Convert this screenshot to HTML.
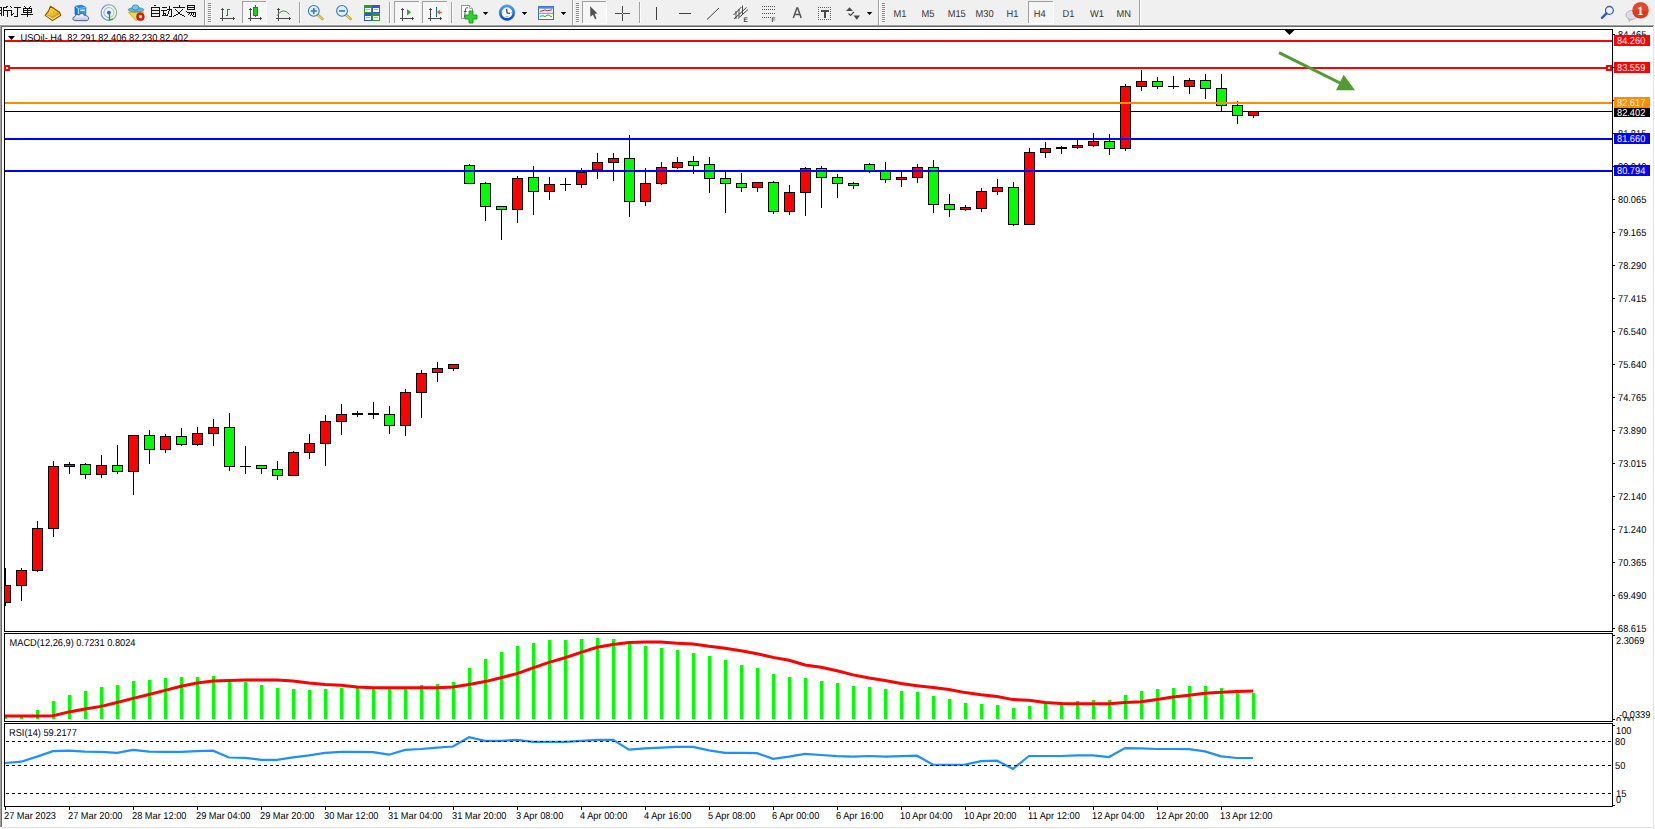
<!DOCTYPE html>
<html><head><meta charset="utf-8"><style>
html,body{margin:0;padding:0;width:1655px;height:829px;overflow:hidden;background:#fff}
svg{position:absolute;left:0;top:0;display:block}
text{font-family:"Liberation Sans",sans-serif;text-rendering:geometricPrecision}
</style></head><body>
<svg width="1655" height="829" viewBox="0 0 1655 829" shape-rendering="crispEdges">
<rect x="0" y="0" width="1655" height="829" fill="#ffffff"/>
<rect x="0" y="0" width="1655" height="25" fill="#f0f0f0"/>
<rect x="0" y="24" width="1655" height="1" fill="#f4f4f4"/>
<rect x="0" y="25" width="1654" height="1" fill="#a0a0a0"/>
<rect x="0" y="26" width="1653" height="1" fill="#696969"/>
<rect x="0" y="26" width="1" height="801" fill="#a0a0a0"/>
<rect x="1" y="26" width="1" height="801" fill="#696969"/>
<rect x="1653" y="27" width="1" height="801" fill="#e3e3e3"/>
<rect x="2" y="827" width="1652" height="1" fill="#e3e3e3"/>
<defs><clipPath id="cm"><rect x="5" y="30" width="1607" height="601"/></clipPath><clipPath id="cmacd"><rect x="5" y="634" width="1607" height="87"/></clipPath><clipPath id="cax"><rect x="1613" y="700" width="40" height="21"/></clipPath><clipPath id="crsi"><rect x="5" y="724" width="1607" height="82"/></clipPath></defs>
<g clip-path="url(#cm)">
<rect x="5" y="111" width="1607" height="1" fill="#000000"/>
<rect x="5" y="568" width="1" height="38" fill="#000"/>
<rect x="0" y="585" width="11" height="18" fill="#000"/>
<rect x="1" y="586" width="9" height="16" fill="#ff0000"/>
<rect x="21" y="568" width="1" height="33" fill="#000"/>
<rect x="16" y="570" width="11" height="16" fill="#000"/>
<rect x="17" y="571" width="9" height="14" fill="#ff0000"/>
<rect x="37" y="521" width="1" height="51" fill="#000"/>
<rect x="32" y="528" width="11" height="43" fill="#000"/>
<rect x="33" y="529" width="9" height="41" fill="#ff0000"/>
<rect x="53" y="461" width="1" height="76" fill="#000"/>
<rect x="48" y="466" width="11" height="63" fill="#000"/>
<rect x="49" y="467" width="9" height="61" fill="#ff0000"/>
<rect x="69" y="462" width="1" height="12" fill="#000"/>
<rect x="64" y="464" width="11" height="3" fill="#000"/>
<rect x="65" y="465" width="9" height="1" fill="#ff0000"/>
<rect x="85" y="463" width="1" height="16" fill="#000"/>
<rect x="80" y="464" width="11" height="11" fill="#000"/>
<rect x="81" y="465" width="9" height="9" fill="#00ff00"/>
<rect x="101" y="455" width="1" height="23" fill="#000"/>
<rect x="96" y="465" width="11" height="10" fill="#000"/>
<rect x="97" y="466" width="9" height="8" fill="#ff0000"/>
<rect x="117" y="445" width="1" height="29" fill="#000"/>
<rect x="112" y="465" width="11" height="7" fill="#000"/>
<rect x="113" y="466" width="9" height="5" fill="#00ff00"/>
<rect x="133" y="435" width="1" height="60" fill="#000"/>
<rect x="128" y="435" width="11" height="37" fill="#000"/>
<rect x="129" y="436" width="9" height="35" fill="#ff0000"/>
<rect x="149" y="430" width="1" height="34" fill="#000"/>
<rect x="144" y="435" width="11" height="15" fill="#000"/>
<rect x="145" y="436" width="9" height="13" fill="#00ff00"/>
<rect x="165" y="434" width="1" height="19" fill="#000"/>
<rect x="160" y="436" width="11" height="14" fill="#000"/>
<rect x="161" y="437" width="9" height="12" fill="#ff0000"/>
<rect x="181" y="428" width="1" height="18" fill="#000"/>
<rect x="176" y="436" width="11" height="9" fill="#000"/>
<rect x="177" y="437" width="9" height="7" fill="#00ff00"/>
<rect x="197" y="427" width="1" height="19" fill="#000"/>
<rect x="192" y="433" width="11" height="12" fill="#000"/>
<rect x="193" y="434" width="9" height="10" fill="#ff0000"/>
<rect x="213" y="419" width="1" height="27" fill="#000"/>
<rect x="208" y="427" width="11" height="7" fill="#000"/>
<rect x="209" y="428" width="9" height="5" fill="#ff0000"/>
<rect x="229" y="413" width="1" height="58" fill="#000"/>
<rect x="224" y="427" width="11" height="40" fill="#000"/>
<rect x="225" y="428" width="9" height="38" fill="#00ff00"/>
<rect x="245" y="446" width="1" height="28" fill="#000"/>
<rect x="240" y="466" width="11" height="1" fill="#000"/>
<rect x="261" y="465" width="1" height="9" fill="#000"/>
<rect x="256" y="465" width="11" height="4" fill="#000"/>
<rect x="257" y="466" width="9" height="2" fill="#00ff00"/>
<rect x="277" y="461" width="1" height="19" fill="#000"/>
<rect x="272" y="469" width="11" height="7" fill="#000"/>
<rect x="273" y="470" width="9" height="5" fill="#00ff00"/>
<rect x="293" y="451" width="1" height="25" fill="#000"/>
<rect x="288" y="452" width="11" height="24" fill="#000"/>
<rect x="289" y="453" width="9" height="22" fill="#ff0000"/>
<rect x="309" y="434" width="1" height="25" fill="#000"/>
<rect x="304" y="443" width="11" height="10" fill="#000"/>
<rect x="305" y="444" width="9" height="8" fill="#ff0000"/>
<rect x="325" y="415" width="1" height="51" fill="#000"/>
<rect x="320" y="421" width="11" height="23" fill="#000"/>
<rect x="321" y="422" width="9" height="21" fill="#ff0000"/>
<rect x="341" y="404" width="1" height="31" fill="#000"/>
<rect x="336" y="414" width="11" height="8" fill="#000"/>
<rect x="337" y="415" width="9" height="6" fill="#ff0000"/>
<rect x="357" y="411" width="1" height="6" fill="#000"/>
<rect x="352" y="413" width="11" height="2" fill="#000"/>
<rect x="373" y="402" width="1" height="17" fill="#000"/>
<rect x="368" y="413" width="11" height="2" fill="#000"/>
<rect x="389" y="406" width="1" height="28" fill="#000"/>
<rect x="384" y="414" width="11" height="12" fill="#000"/>
<rect x="385" y="415" width="9" height="10" fill="#00ff00"/>
<rect x="405" y="389" width="1" height="47" fill="#000"/>
<rect x="400" y="392" width="11" height="34" fill="#000"/>
<rect x="401" y="393" width="9" height="32" fill="#ff0000"/>
<rect x="421" y="370" width="1" height="48" fill="#000"/>
<rect x="416" y="373" width="11" height="20" fill="#000"/>
<rect x="417" y="374" width="9" height="18" fill="#ff0000"/>
<rect x="437" y="362" width="1" height="20" fill="#000"/>
<rect x="432" y="368" width="11" height="5" fill="#000"/>
<rect x="433" y="369" width="9" height="3" fill="#ff0000"/>
<rect x="453" y="364" width="1" height="7" fill="#000"/>
<rect x="448" y="364" width="11" height="5" fill="#000"/>
<rect x="449" y="365" width="9" height="3" fill="#ff0000"/>
<rect x="469" y="164" width="1" height="20" fill="#000"/>
<rect x="464" y="165" width="11" height="19" fill="#000"/>
<rect x="465" y="166" width="9" height="17" fill="#00ff00"/>
<rect x="485" y="182" width="1" height="39" fill="#000"/>
<rect x="480" y="183" width="11" height="24" fill="#000"/>
<rect x="481" y="184" width="9" height="22" fill="#00ff00"/>
<rect x="501" y="206" width="1" height="34" fill="#000"/>
<rect x="496" y="206" width="11" height="4" fill="#000"/>
<rect x="497" y="207" width="9" height="2" fill="#00ff00"/>
<rect x="517" y="176" width="1" height="47" fill="#000"/>
<rect x="512" y="178" width="11" height="32" fill="#000"/>
<rect x="513" y="179" width="9" height="30" fill="#ff0000"/>
<rect x="533" y="166" width="1" height="49" fill="#000"/>
<rect x="528" y="177" width="11" height="15" fill="#000"/>
<rect x="529" y="178" width="9" height="13" fill="#00ff00"/>
<rect x="549" y="177" width="1" height="23" fill="#000"/>
<rect x="544" y="184" width="11" height="8" fill="#000"/>
<rect x="545" y="185" width="9" height="6" fill="#ff0000"/>
<rect x="565" y="178" width="1" height="13" fill="#000"/>
<rect x="560" y="184" width="11" height="1" fill="#000"/>
<rect x="581" y="168" width="1" height="20" fill="#000"/>
<rect x="576" y="172" width="11" height="13" fill="#000"/>
<rect x="577" y="173" width="9" height="11" fill="#ff0000"/>
<rect x="597" y="153" width="1" height="26" fill="#000"/>
<rect x="592" y="162" width="11" height="8" fill="#000"/>
<rect x="593" y="163" width="9" height="6" fill="#ff0000"/>
<rect x="613" y="153" width="1" height="28" fill="#000"/>
<rect x="608" y="158" width="11" height="5" fill="#000"/>
<rect x="609" y="159" width="9" height="3" fill="#ff0000"/>
<rect x="629" y="135" width="1" height="82" fill="#000"/>
<rect x="624" y="158" width="11" height="44" fill="#000"/>
<rect x="625" y="159" width="9" height="42" fill="#00ff00"/>
<rect x="645" y="168" width="1" height="38" fill="#000"/>
<rect x="640" y="183" width="11" height="19" fill="#000"/>
<rect x="641" y="184" width="9" height="17" fill="#ff0000"/>
<rect x="661" y="162" width="1" height="23" fill="#000"/>
<rect x="656" y="167" width="11" height="17" fill="#000"/>
<rect x="657" y="168" width="9" height="15" fill="#ff0000"/>
<rect x="677" y="157" width="1" height="12" fill="#000"/>
<rect x="672" y="162" width="11" height="6" fill="#000"/>
<rect x="673" y="163" width="9" height="4" fill="#ff0000"/>
<rect x="693" y="156" width="1" height="18" fill="#000"/>
<rect x="688" y="161" width="11" height="5" fill="#000"/>
<rect x="689" y="162" width="9" height="3" fill="#00ff00"/>
<rect x="709" y="157" width="1" height="36" fill="#000"/>
<rect x="704" y="164" width="11" height="15" fill="#000"/>
<rect x="705" y="165" width="9" height="13" fill="#00ff00"/>
<rect x="725" y="172" width="1" height="41" fill="#000"/>
<rect x="720" y="178" width="11" height="6" fill="#000"/>
<rect x="721" y="179" width="9" height="4" fill="#00ff00"/>
<rect x="741" y="173" width="1" height="19" fill="#000"/>
<rect x="736" y="183" width="11" height="5" fill="#000"/>
<rect x="737" y="184" width="9" height="3" fill="#00ff00"/>
<rect x="757" y="182" width="1" height="10" fill="#000"/>
<rect x="752" y="182" width="11" height="6" fill="#000"/>
<rect x="753" y="183" width="9" height="4" fill="#ff0000"/>
<rect x="773" y="181" width="1" height="33" fill="#000"/>
<rect x="768" y="182" width="11" height="30" fill="#000"/>
<rect x="769" y="183" width="9" height="28" fill="#00ff00"/>
<rect x="789" y="185" width="1" height="30" fill="#000"/>
<rect x="784" y="192" width="11" height="20" fill="#000"/>
<rect x="785" y="193" width="9" height="18" fill="#ff0000"/>
<rect x="805" y="167" width="1" height="49" fill="#000"/>
<rect x="800" y="168" width="11" height="25" fill="#000"/>
<rect x="801" y="169" width="9" height="23" fill="#ff0000"/>
<rect x="821" y="166" width="1" height="42" fill="#000"/>
<rect x="816" y="168" width="11" height="10" fill="#000"/>
<rect x="817" y="169" width="9" height="8" fill="#00ff00"/>
<rect x="837" y="174" width="1" height="24" fill="#000"/>
<rect x="832" y="177" width="11" height="7" fill="#000"/>
<rect x="833" y="178" width="9" height="5" fill="#00ff00"/>
<rect x="853" y="182" width="1" height="7" fill="#000"/>
<rect x="848" y="183" width="11" height="3" fill="#000"/>
<rect x="849" y="184" width="9" height="1" fill="#00ff00"/>
<rect x="869" y="163" width="1" height="10" fill="#000"/>
<rect x="864" y="164" width="11" height="7" fill="#000"/>
<rect x="865" y="165" width="9" height="5" fill="#00ff00"/>
<rect x="885" y="162" width="1" height="21" fill="#000"/>
<rect x="880" y="170" width="11" height="10" fill="#000"/>
<rect x="881" y="171" width="9" height="8" fill="#00ff00"/>
<rect x="901" y="172" width="1" height="15" fill="#000"/>
<rect x="896" y="177" width="11" height="3" fill="#000"/>
<rect x="897" y="178" width="9" height="1" fill="#ff0000"/>
<rect x="917" y="164" width="1" height="19" fill="#000"/>
<rect x="912" y="167" width="11" height="11" fill="#000"/>
<rect x="913" y="168" width="9" height="9" fill="#ff0000"/>
<rect x="933" y="160" width="1" height="53" fill="#000"/>
<rect x="928" y="167" width="11" height="38" fill="#000"/>
<rect x="929" y="168" width="9" height="36" fill="#00ff00"/>
<rect x="949" y="194" width="1" height="23" fill="#000"/>
<rect x="944" y="204" width="11" height="6" fill="#000"/>
<rect x="945" y="205" width="9" height="4" fill="#00ff00"/>
<rect x="965" y="205" width="1" height="6" fill="#000"/>
<rect x="960" y="207" width="11" height="3" fill="#000"/>
<rect x="961" y="208" width="9" height="1" fill="#ff0000"/>
<rect x="981" y="188" width="1" height="24" fill="#000"/>
<rect x="976" y="191" width="11" height="18" fill="#000"/>
<rect x="977" y="192" width="9" height="16" fill="#ff0000"/>
<rect x="997" y="179" width="1" height="16" fill="#000"/>
<rect x="992" y="187" width="11" height="5" fill="#000"/>
<rect x="993" y="188" width="9" height="3" fill="#ff0000"/>
<rect x="1013" y="182" width="1" height="44" fill="#000"/>
<rect x="1008" y="187" width="11" height="38" fill="#000"/>
<rect x="1009" y="188" width="9" height="36" fill="#00ff00"/>
<rect x="1029" y="148" width="1" height="77" fill="#000"/>
<rect x="1024" y="152" width="11" height="73" fill="#000"/>
<rect x="1025" y="153" width="9" height="71" fill="#ff0000"/>
<rect x="1045" y="142" width="1" height="16" fill="#000"/>
<rect x="1040" y="148" width="11" height="5" fill="#000"/>
<rect x="1041" y="149" width="9" height="3" fill="#ff0000"/>
<rect x="1061" y="146" width="1" height="8" fill="#000"/>
<rect x="1056" y="147" width="11" height="2" fill="#000"/>
<rect x="1077" y="140" width="1" height="9" fill="#000"/>
<rect x="1072" y="145" width="11" height="3" fill="#000"/>
<rect x="1073" y="146" width="9" height="1" fill="#ff0000"/>
<rect x="1093" y="133" width="1" height="14" fill="#000"/>
<rect x="1088" y="141" width="11" height="5" fill="#000"/>
<rect x="1089" y="142" width="9" height="3" fill="#ff0000"/>
<rect x="1109" y="134" width="1" height="21" fill="#000"/>
<rect x="1104" y="141" width="11" height="8" fill="#000"/>
<rect x="1105" y="142" width="9" height="6" fill="#00ff00"/>
<rect x="1125" y="84" width="1" height="67" fill="#000"/>
<rect x="1120" y="86" width="11" height="63" fill="#000"/>
<rect x="1121" y="87" width="9" height="61" fill="#ff0000"/>
<rect x="1141" y="70" width="1" height="21" fill="#000"/>
<rect x="1136" y="81" width="11" height="6" fill="#000"/>
<rect x="1137" y="82" width="9" height="4" fill="#ff0000"/>
<rect x="1157" y="77" width="1" height="12" fill="#000"/>
<rect x="1152" y="81" width="11" height="6" fill="#000"/>
<rect x="1153" y="82" width="9" height="4" fill="#00ff00"/>
<rect x="1173" y="76" width="1" height="13" fill="#000"/>
<rect x="1168" y="86" width="11" height="1" fill="#000"/>
<rect x="1189" y="78" width="1" height="16" fill="#000"/>
<rect x="1184" y="80" width="11" height="7" fill="#000"/>
<rect x="1185" y="81" width="9" height="5" fill="#ff0000"/>
<rect x="1205" y="74" width="1" height="25" fill="#000"/>
<rect x="1200" y="80" width="11" height="9" fill="#000"/>
<rect x="1201" y="81" width="9" height="7" fill="#00ff00"/>
<rect x="1221" y="74" width="1" height="37" fill="#000"/>
<rect x="1216" y="88" width="11" height="18" fill="#000"/>
<rect x="1217" y="89" width="9" height="16" fill="#00ff00"/>
<rect x="1237" y="101" width="1" height="23" fill="#000"/>
<rect x="1232" y="105" width="11" height="11" fill="#000"/>
<rect x="1233" y="106" width="9" height="9" fill="#00ff00"/>
<rect x="1253" y="111" width="1" height="7" fill="#000"/>
<rect x="1248" y="111" width="11" height="5" fill="#000"/>
<rect x="1249" y="112" width="9" height="3" fill="#ff0000"/>
<rect x="5" y="40" width="1607" height="2" fill="#ff0000"/>
<rect x="5" y="67" width="1607" height="2" fill="#ff0000"/>
<rect x="5" y="102" width="1607" height="2" fill="#ff8c00"/>
<rect x="5" y="138" width="1607" height="2" fill="#0000ff"/>
<rect x="5" y="170" width="1607" height="2" fill="#0000ff"/>
<path d="M1284.5 30 L1294.5 30 L1289.5 35 Z" fill="#000" shape-rendering="geometricPrecision"/>
<g shape-rendering="geometricPrecision"><line x1="1279" y1="52.6" x2="1340" y2="83" stroke="#509c30" stroke-width="3"/><path d="M1343.7 74.8 L1355 90.2 L1336 90.2 Z" fill="#509c30"/></g>
</g>
<path d="M8 36 L15 36 L11.5 40 Z" fill="#000" shape-rendering="geometricPrecision"/>
<text transform="translate(20.5,41) scale(0.925,1)" font-size="10" fill="#000">USOil-,H4&#160; 82.291 82.406 82.230 82.402</text>
<rect x="4" y="29" width="1609" height="1" fill="#000"/>
<rect x="4" y="631" width="1609" height="1" fill="#000"/>
<rect x="4" y="29" width="1" height="603" fill="#000"/>
<rect x="1612" y="29" width="1" height="603" fill="#000"/>
<rect x="4" y="633" width="1609" height="1" fill="#000"/>
<rect x="4" y="721" width="1609" height="1" fill="#000"/>
<rect x="4" y="633" width="1" height="89" fill="#000"/>
<rect x="1612" y="633" width="1" height="89" fill="#000"/>
<rect x="4" y="723" width="1609" height="1" fill="#000"/>
<rect x="4" y="806" width="1609" height="1" fill="#000"/>
<rect x="4" y="723" width="1" height="84" fill="#000"/>
<rect x="1612" y="723" width="1" height="84" fill="#000"/>
<rect x="1606" y="65" width="6" height="6" fill="#ff0000"/><rect x="1608" y="67" width="2" height="2" fill="#fff"/>
<rect x="4" y="65" width="6" height="6" fill="#ff0000"/><rect x="6" y="67" width="2" height="2" fill="#fff"/>
<g clip-path="url(#cmacd)">
<rect x="4" y="716" width="3" height="3" fill="#00ff00"/>
<rect x="20" y="717" width="3" height="2" fill="#00ff00"/>
<rect x="36" y="710" width="3" height="9" fill="#00ff00"/>
<rect x="52" y="701" width="3" height="18" fill="#00ff00"/>
<rect x="68" y="695" width="3" height="24" fill="#00ff00"/>
<rect x="84" y="691" width="3" height="28" fill="#00ff00"/>
<rect x="100" y="687" width="3" height="32" fill="#00ff00"/>
<rect x="116" y="685" width="3" height="34" fill="#00ff00"/>
<rect x="132" y="681" width="3" height="38" fill="#00ff00"/>
<rect x="148" y="680" width="3" height="39" fill="#00ff00"/>
<rect x="164" y="678" width="3" height="41" fill="#00ff00"/>
<rect x="180" y="677" width="3" height="42" fill="#00ff00"/>
<rect x="196" y="677" width="3" height="42" fill="#00ff00"/>
<rect x="212" y="676" width="3" height="43" fill="#00ff00"/>
<rect x="228" y="679" width="3" height="40" fill="#00ff00"/>
<rect x="244" y="682" width="3" height="37" fill="#00ff00"/>
<rect x="260" y="685" width="3" height="34" fill="#00ff00"/>
<rect x="276" y="688" width="3" height="31" fill="#00ff00"/>
<rect x="292" y="689" width="3" height="30" fill="#00ff00"/>
<rect x="308" y="690" width="3" height="29" fill="#00ff00"/>
<rect x="324" y="689" width="3" height="30" fill="#00ff00"/>
<rect x="340" y="688" width="3" height="31" fill="#00ff00"/>
<rect x="356" y="688" width="3" height="31" fill="#00ff00"/>
<rect x="372" y="688" width="3" height="31" fill="#00ff00"/>
<rect x="388" y="689" width="3" height="30" fill="#00ff00"/>
<rect x="404" y="689" width="3" height="30" fill="#00ff00"/>
<rect x="420" y="685" width="3" height="34" fill="#00ff00"/>
<rect x="436" y="684" width="3" height="35" fill="#00ff00"/>
<rect x="452" y="682" width="3" height="37" fill="#00ff00"/>
<rect x="468" y="668" width="3" height="51" fill="#00ff00"/>
<rect x="484" y="659" width="3" height="60" fill="#00ff00"/>
<rect x="500" y="652" width="3" height="67" fill="#00ff00"/>
<rect x="516" y="646" width="3" height="73" fill="#00ff00"/>
<rect x="532" y="643" width="3" height="76" fill="#00ff00"/>
<rect x="548" y="640" width="3" height="79" fill="#00ff00"/>
<rect x="564" y="640" width="3" height="79" fill="#00ff00"/>
<rect x="580" y="639" width="3" height="80" fill="#00ff00"/>
<rect x="596" y="638" width="3" height="81" fill="#00ff00"/>
<rect x="612" y="639" width="3" height="80" fill="#00ff00"/>
<rect x="628" y="643" width="3" height="76" fill="#00ff00"/>
<rect x="644" y="646" width="3" height="73" fill="#00ff00"/>
<rect x="660" y="648" width="3" height="71" fill="#00ff00"/>
<rect x="676" y="650" width="3" height="69" fill="#00ff00"/>
<rect x="692" y="653" width="3" height="66" fill="#00ff00"/>
<rect x="708" y="656" width="3" height="63" fill="#00ff00"/>
<rect x="724" y="660" width="3" height="59" fill="#00ff00"/>
<rect x="740" y="665" width="3" height="54" fill="#00ff00"/>
<rect x="756" y="668" width="3" height="51" fill="#00ff00"/>
<rect x="772" y="674" width="3" height="45" fill="#00ff00"/>
<rect x="788" y="677" width="3" height="42" fill="#00ff00"/>
<rect x="804" y="678" width="3" height="41" fill="#00ff00"/>
<rect x="820" y="681" width="3" height="38" fill="#00ff00"/>
<rect x="836" y="683" width="3" height="36" fill="#00ff00"/>
<rect x="852" y="686" width="3" height="33" fill="#00ff00"/>
<rect x="868" y="687" width="3" height="32" fill="#00ff00"/>
<rect x="884" y="689" width="3" height="30" fill="#00ff00"/>
<rect x="900" y="691" width="3" height="28" fill="#00ff00"/>
<rect x="916" y="692" width="3" height="27" fill="#00ff00"/>
<rect x="932" y="696" width="3" height="23" fill="#00ff00"/>
<rect x="948" y="699" width="3" height="20" fill="#00ff00"/>
<rect x="964" y="703" width="3" height="16" fill="#00ff00"/>
<rect x="980" y="704" width="3" height="15" fill="#00ff00"/>
<rect x="996" y="705" width="3" height="14" fill="#00ff00"/>
<rect x="1012" y="708" width="3" height="11" fill="#00ff00"/>
<rect x="1028" y="706" width="3" height="13" fill="#00ff00"/>
<rect x="1044" y="704" width="3" height="15" fill="#00ff00"/>
<rect x="1060" y="702" width="3" height="17" fill="#00ff00"/>
<rect x="1076" y="701" width="3" height="18" fill="#00ff00"/>
<rect x="1092" y="700" width="3" height="19" fill="#00ff00"/>
<rect x="1108" y="700" width="3" height="19" fill="#00ff00"/>
<rect x="1124" y="695" width="3" height="24" fill="#00ff00"/>
<rect x="1140" y="691" width="3" height="28" fill="#00ff00"/>
<rect x="1156" y="689" width="3" height="30" fill="#00ff00"/>
<rect x="1172" y="688" width="3" height="31" fill="#00ff00"/>
<rect x="1188" y="686" width="3" height="33" fill="#00ff00"/>
<rect x="1204" y="686" width="3" height="33" fill="#00ff00"/>
<rect x="1220" y="688" width="3" height="31" fill="#00ff00"/>
<rect x="1236" y="691" width="3" height="28" fill="#00ff00"/>
<rect x="1252" y="693" width="3" height="26" fill="#00ff00"/>
<polyline points="5,716.1 21,716 37,716 53,715.7 69,711.9 85,709.1 101,706.4 117,702.5 133,698.4 149,694.5 165,690.4 181,686.3 197,683.1 213,681 229,680.6 245,680 261,680 277,680 293,681 309,683.1 325,684.4 341,685.3 357,687 373,687.8 389,687.8 405,687.8 421,687.8 437,687.8 453,687 469,684.4 485,681.6 501,677.7 517,673.6 533,667.9 549,662.4 565,657.7 581,652.3 597,647.2 613,644.4 629,642.5 645,641.9 661,642.1 677,643.2 693,644 709,646.3 725,648.2 741,650.8 757,653.7 773,657.4 789,660.3 805,665 821,667.3 837,670.8 853,674.9 869,678 885,680.6 901,683.5 917,685.7 933,687.6 949,689.5 965,692.6 981,694.8 997,696.5 1013,699.6 1029,700.3 1045,702.5 1061,703.4 1077,703.7 1093,703.7 1109,703.7 1125,702.5 1141,701.8 1157,699.4 1173,697.1 1189,695.3 1205,693.2 1221,692.3 1237,691.5 1253,691" fill="none" stroke="#ff0000" stroke-width="3" shape-rendering="geometricPrecision"/>
</g>
<text transform="translate(9.5,646) scale(0.925,1)" font-size="10" fill="#000">MACD(12,26,9) 0.7231 0.8024</text>
<g clip-path="url(#crsi)">
<polyline points="5,763 21,761.7 37,756.6 53,751.2 69,750.7 85,751.6 101,751.9 117,752.8 133,749.9 149,751.6 165,751.9 181,751.9 197,751.2 213,750.7 229,757.5 245,757.9 261,759.8 277,759.8 293,757.3 309,755.4 325,752.8 341,751.9 357,751.9 373,752.2 389,754.7 405,749.9 421,749 437,747.7 453,746.5 469,737.2 485,740.8 501,740.8 517,739.9 533,741.8 549,741.8 565,741.8 581,740.8 597,739.9 613,739.9 629,749.6 645,748.4 661,747.7 677,746.9 693,746.9 709,750.3 725,752.8 741,752.8 757,753.1 773,758.9 789,756.6 805,753.8 821,755 837,756.2 853,756.6 869,756 885,756.6 901,756.2 917,755.7 933,764.6 949,764.9 965,764.6 981,761.1 997,760.7 1013,768.9 1029,756 1045,756 1061,756 1077,755.4 1093,755.4 1109,757 1125,748.1 1141,748.4 1157,749 1173,749 1189,749.1 1205,751.4 1221,756.4 1237,758 1253,758" fill="none" stroke="#1e90ff" stroke-width="2.2" shape-rendering="geometricPrecision"/>
<line x1="6" y1="741.5" x2="1612" y2="741.5" stroke="#000" stroke-width="1" stroke-dasharray="3 3"/>
<line x1="6" y1="765.5" x2="1612" y2="765.5" stroke="#000" stroke-width="1" stroke-dasharray="3 3"/>
<line x1="6" y1="793.5" x2="1612" y2="793.5" stroke="#000" stroke-width="1" stroke-dasharray="3 3"/>
</g>
<text transform="translate(9,736) scale(0.925,1)" font-size="10" fill="#000">RSI(14) 59.2177</text>
<rect x="1612" y="34" width="3" height="1" fill="#000"/>
<text transform="translate(1618,37.5) scale(0.925,1)" font-size="10" fill="#000">84.465</text>
<rect x="1612" y="67" width="3" height="1" fill="#000"/>
<text transform="translate(1618,70.5) scale(0.925,1)" font-size="10" fill="#000">83.590</text>
<rect x="1612" y="100" width="3" height="1" fill="#000"/>
<rect x="1612" y="133" width="3" height="1" fill="#000"/>
<text transform="translate(1618,136.5) scale(0.925,1)" font-size="10" fill="#000">81.815</text>
<rect x="1612" y="166" width="3" height="1" fill="#000"/>
<text transform="translate(1618,169.5) scale(0.925,1)" font-size="10" fill="#000">80.940</text>
<rect x="1612" y="199" width="3" height="1" fill="#000"/>
<text transform="translate(1618,202.5) scale(0.925,1)" font-size="10" fill="#000">80.065</text>
<rect x="1612" y="232" width="3" height="1" fill="#000"/>
<text transform="translate(1618,235.5) scale(0.925,1)" font-size="10" fill="#000">79.165</text>
<rect x="1612" y="265" width="3" height="1" fill="#000"/>
<text transform="translate(1618,268.5) scale(0.925,1)" font-size="10" fill="#000">78.290</text>
<rect x="1612" y="298" width="3" height="1" fill="#000"/>
<text transform="translate(1618,301.5) scale(0.925,1)" font-size="10" fill="#000">77.415</text>
<rect x="1612" y="331" width="3" height="1" fill="#000"/>
<text transform="translate(1618,334.5) scale(0.925,1)" font-size="10" fill="#000">76.540</text>
<rect x="1612" y="364" width="3" height="1" fill="#000"/>
<text transform="translate(1618,367.5) scale(0.925,1)" font-size="10" fill="#000">75.640</text>
<rect x="1612" y="397" width="3" height="1" fill="#000"/>
<text transform="translate(1618,400.5) scale(0.925,1)" font-size="10" fill="#000">74.765</text>
<rect x="1612" y="430" width="3" height="1" fill="#000"/>
<text transform="translate(1618,433.5) scale(0.925,1)" font-size="10" fill="#000">73.890</text>
<rect x="1612" y="463" width="3" height="1" fill="#000"/>
<text transform="translate(1618,466.5) scale(0.925,1)" font-size="10" fill="#000">73.015</text>
<rect x="1612" y="496" width="3" height="1" fill="#000"/>
<text transform="translate(1618,499.5) scale(0.925,1)" font-size="10" fill="#000">72.140</text>
<rect x="1612" y="529" width="3" height="1" fill="#000"/>
<text transform="translate(1618,532.5) scale(0.925,1)" font-size="10" fill="#000">71.240</text>
<rect x="1612" y="562" width="3" height="1" fill="#000"/>
<text transform="translate(1618,565.5) scale(0.925,1)" font-size="10" fill="#000">70.365</text>
<rect x="1612" y="595" width="3" height="1" fill="#000"/>
<text transform="translate(1618,598.5) scale(0.925,1)" font-size="10" fill="#000">69.490</text>
<rect x="1612" y="628" width="3" height="1" fill="#000"/>
<text transform="translate(1618,631.5) scale(0.925,1)" font-size="10" fill="#000">68.615</text>
<rect x="1614" y="35" width="36" height="11" fill="#ff0000"/>
<text transform="translate(1617,44) scale(0.925,1)" font-size="10" fill="#fff">84.260</text>
<rect x="1614" y="62" width="36" height="11" fill="#ff0000"/>
<text transform="translate(1617,71) scale(0.925,1)" font-size="10" fill="#fff">83.559</text>
<rect x="1614" y="97" width="36" height="11" fill="#ff8c00"/>
<text transform="translate(1617,106) scale(0.925,1)" font-size="10" fill="#fff">82.617</text>
<rect x="1614" y="108" width="36" height="9" fill="#000000"/>
<text transform="translate(1617,116.3) scale(0.925,1)" font-size="10" fill="#fff">82.402</text>
<rect x="1614" y="133" width="36" height="11" fill="#0000ff"/>
<text transform="translate(1617,142) scale(0.925,1)" font-size="10" fill="#fff">81.660</text>
<rect x="1614" y="165" width="36" height="11" fill="#0000ff"/>
<text transform="translate(1617,174) scale(0.925,1)" font-size="10" fill="#fff">80.794</text>
<rect x="1612" y="635" width="3" height="1" fill="#000"/>
<text transform="translate(1616,644) scale(0.925,1)" font-size="10" fill="#000">2.3069</text>
<rect x="1612" y="719" width="3" height="1" fill="#000"/>
<g clip-path="url(#cax)">
<text transform="translate(1616,724) scale(0.925,1)" font-size="10" fill="#000">0.00</text>
</g>
<text transform="translate(1619,718) scale(0.925,1)" font-size="10" fill="#000">-0.0339</text>
<rect x="1612" y="725" width="3" height="1" fill="#000"/>
<text transform="translate(1616,734) scale(0.925,1)" font-size="10" fill="#000">100</text>
<text transform="translate(1615,745) scale(0.925,1)" font-size="10" fill="#000">80</text>
<text transform="translate(1615,769) scale(0.925,1)" font-size="10" fill="#000">50</text>
<text transform="translate(1616,796.5) scale(0.925,1)" font-size="10" fill="#000">15</text>
<rect x="1612" y="805" width="3" height="1" fill="#000"/>
<text transform="translate(1616,803) scale(0.925,1)" font-size="10" fill="#000">0</text>
<rect x="5" y="807" width="1" height="3" fill="#000"/>
<text transform="translate(4,819) scale(0.925,1)" font-size="10" fill="#000">27 Mar 2023</text>
<rect x="69" y="807" width="1" height="3" fill="#000"/>
<text transform="translate(68,819) scale(0.925,1)" font-size="10" fill="#000">27 Mar 20:00</text>
<rect x="133" y="807" width="1" height="3" fill="#000"/>
<text transform="translate(132,819) scale(0.925,1)" font-size="10" fill="#000">28 Mar 12:00</text>
<rect x="197" y="807" width="1" height="3" fill="#000"/>
<text transform="translate(196,819) scale(0.925,1)" font-size="10" fill="#000">29 Mar 04:00</text>
<rect x="261" y="807" width="1" height="3" fill="#000"/>
<text transform="translate(260,819) scale(0.925,1)" font-size="10" fill="#000">29 Mar 20:00</text>
<rect x="325" y="807" width="1" height="3" fill="#000"/>
<text transform="translate(324,819) scale(0.925,1)" font-size="10" fill="#000">30 Mar 12:00</text>
<rect x="389" y="807" width="1" height="3" fill="#000"/>
<text transform="translate(388,819) scale(0.925,1)" font-size="10" fill="#000">31 Mar 04:00</text>
<rect x="453" y="807" width="1" height="3" fill="#000"/>
<text transform="translate(452,819) scale(0.925,1)" font-size="10" fill="#000">31 Mar 20:00</text>
<rect x="517" y="807" width="1" height="3" fill="#000"/>
<text transform="translate(516,819) scale(0.925,1)" font-size="10" fill="#000">3 Apr 08:00</text>
<rect x="581" y="807" width="1" height="3" fill="#000"/>
<text transform="translate(580,819) scale(0.925,1)" font-size="10" fill="#000">4 Apr 00:00</text>
<rect x="645" y="807" width="1" height="3" fill="#000"/>
<text transform="translate(644,819) scale(0.925,1)" font-size="10" fill="#000">4 Apr 16:00</text>
<rect x="709" y="807" width="1" height="3" fill="#000"/>
<text transform="translate(708,819) scale(0.925,1)" font-size="10" fill="#000">5 Apr 08:00</text>
<rect x="773" y="807" width="1" height="3" fill="#000"/>
<text transform="translate(772,819) scale(0.925,1)" font-size="10" fill="#000">6 Apr 00:00</text>
<rect x="837" y="807" width="1" height="3" fill="#000"/>
<text transform="translate(836,819) scale(0.925,1)" font-size="10" fill="#000">6 Apr 16:00</text>
<rect x="901" y="807" width="1" height="3" fill="#000"/>
<text transform="translate(900,819) scale(0.925,1)" font-size="10" fill="#000">10 Apr 04:00</text>
<rect x="965" y="807" width="1" height="3" fill="#000"/>
<text transform="translate(964,819) scale(0.925,1)" font-size="10" fill="#000">10 Apr 20:00</text>
<rect x="1029" y="807" width="1" height="3" fill="#000"/>
<text transform="translate(1028,819) scale(0.925,1)" font-size="10" fill="#000">11 Apr 12:00</text>
<rect x="1093" y="807" width="1" height="3" fill="#000"/>
<text transform="translate(1092,819) scale(0.925,1)" font-size="10" fill="#000">12 Apr 04:00</text>
<rect x="1157" y="807" width="1" height="3" fill="#000"/>
<text transform="translate(1156,819) scale(0.925,1)" font-size="10" fill="#000">12 Apr 20:00</text>
<rect x="1221" y="807" width="1" height="3" fill="#000"/>
<text transform="translate(1220,819) scale(0.925,1)" font-size="10" fill="#000">13 Apr 12:00</text>
<rect x="0" y="7" width="2" height="1" fill="#141414"/>
<rect x="0" y="10" width="2" height="1" fill="#141414"/>
<rect x="1" y="8" width="1" height="8" fill="#141414"/>
<rect x="0" y="13" width="2" height="1" fill="#141414"/>
<rect x="3" y="7" width="1" height="9" fill="#141414"/>
<rect x="4" y="7" width="3" height="1" fill="#141414"/>
<rect x="6" y="6" width="2" height="1" fill="#141414"/>
<rect x="3" y="10" width="8" height="1" fill="#141414"/>
<rect x="7" y="11" width="1" height="6" fill="#141414"/>
<rect x="10" y="6" width="1" height="1" fill="#141414"/>
<rect x="11" y="7" width="1" height="1" fill="#141414"/>
<rect x="11" y="10" width="1" height="6" fill="#141414"/>
<rect x="10" y="10" width="1" height="1" fill="#141414"/>
<rect x="12" y="14" width="1" height="1" fill="#141414"/>
<rect x="13" y="13" width="1" height="1" fill="#141414"/>
<rect x="14" y="7" width="7" height="1" fill="#141414"/>
<rect x="17" y="8" width="1" height="8" fill="#141414"/>
<rect x="14" y="16" width="4" height="1" fill="#141414"/>
<rect x="24" y="6" width="1" height="1" fill="#141414"/>
<rect x="25" y="7" width="1" height="1" fill="#141414"/>
<rect x="30" y="6" width="1" height="1" fill="#141414"/>
<rect x="29" y="7" width="1" height="1" fill="#141414"/>
<rect x="23" y="8" width="9" height="1" fill="#141414"/>
<rect x="23" y="8" width="1" height="5" fill="#141414"/>
<rect x="31" y="8" width="1" height="5" fill="#141414"/>
<rect x="23" y="10" width="9" height="1" fill="#141414"/>
<rect x="23" y="12" width="9" height="1" fill="#141414"/>
<rect x="27" y="8" width="1" height="9" fill="#141414"/>
<rect x="21" y="14" width="12" height="1" fill="#141414"/>
<rect x="154" y="5" width="2" height="1" fill="#141414"/>
<rect x="151" y="7" width="1" height="10" fill="#141414"/>
<rect x="159" y="7" width="1" height="10" fill="#141414"/>
<rect x="151" y="7" width="9" height="1" fill="#141414"/>
<rect x="151" y="10" width="9" height="1" fill="#141414"/>
<rect x="151" y="13" width="9" height="1" fill="#141414"/>
<rect x="151" y="16" width="9" height="1" fill="#141414"/>
<rect x="162" y="7" width="5" height="1" fill="#141414"/>
<rect x="161" y="10" width="6" height="1" fill="#141414"/>
<rect x="163" y="11" width="1" height="5" fill="#141414"/>
<rect x="164" y="13" width="2" height="1" fill="#141414"/>
<rect x="162" y="15" width="5" height="1" fill="#141414"/>
<rect x="165" y="14" width="1" height="1" fill="#141414"/>
<rect x="167" y="9" width="5" height="1" fill="#141414"/>
<rect x="171" y="9" width="1" height="7" fill="#141414"/>
<rect x="169" y="6" width="1" height="5" fill="#141414"/>
<rect x="168" y="11" width="1" height="3" fill="#141414"/>
<rect x="167" y="14" width="1" height="2" fill="#141414"/>
<rect x="169" y="16" width="3" height="1" fill="#141414"/>
<rect x="179" y="5" width="1" height="2" fill="#141414"/>
<rect x="173" y="7" width="12" height="1" fill="#141414"/>
<rect x="175" y="9" width="1" height="1" fill="#141414"/>
<rect x="176" y="10" width="1" height="1" fill="#141414"/>
<rect x="182" y="9" width="1" height="1" fill="#141414"/>
<rect x="181" y="10" width="1" height="1" fill="#141414"/>
<rect x="177" y="11" width="1" height="1" fill="#141414"/>
<rect x="180" y="11" width="1" height="1" fill="#141414"/>
<rect x="178" y="12" width="2" height="2" fill="#141414"/>
<rect x="176" y="14" width="2" height="1" fill="#141414"/>
<rect x="180" y="14" width="2" height="1" fill="#141414"/>
<rect x="174" y="15" width="2" height="1" fill="#141414"/>
<rect x="182" y="15" width="2" height="1" fill="#141414"/>
<rect x="173" y="16" width="1" height="1" fill="#141414"/>
<rect x="184" y="16" width="1" height="1" fill="#141414"/>
<rect x="187" y="5" width="8" height="1" fill="#141414"/>
<rect x="187" y="5" width="1" height="5" fill="#141414"/>
<rect x="194" y="5" width="1" height="5" fill="#141414"/>
<rect x="187" y="7" width="8" height="1" fill="#141414"/>
<rect x="187" y="9" width="8" height="1" fill="#141414"/>
<rect x="186" y="11" width="1" height="1" fill="#141414"/>
<rect x="187" y="12" width="9" height="1" fill="#141414"/>
<rect x="195" y="12" width="1" height="5" fill="#141414"/>
<rect x="193" y="16" width="2" height="1" fill="#141414"/>
<rect x="189" y="13" width="1" height="1" fill="#141414"/>
<rect x="188" y="14" width="1" height="1" fill="#141414"/>
<rect x="191" y="13" width="1" height="2" fill="#141414"/>
<rect x="190" y="15" width="1" height="1" fill="#141414"/>
<rect x="193" y="13" width="1" height="2" fill="#141414"/>
<rect x="192" y="15" width="1" height="1" fill="#141414"/>
<defs><linearGradient id="gbook" x1="0" y1="0" x2="1" y2="1"><stop offset="0" stop-color="#ffe44a"/><stop offset="0.6" stop-color="#e8b820"/><stop offset="1" stop-color="#c08a10"/></linearGradient><linearGradient id="gcloud" x1="0" y1="0" x2="0" y2="1"><stop offset="0" stop-color="#ffffff"/><stop offset="1" stop-color="#b8c4d8"/></linearGradient><linearGradient id="gbox" x1="0" y1="0" x2="1" y2="0"><stop offset="0" stop-color="#0a7ae8"/><stop offset="1" stop-color="#2aa8ff"/></linearGradient></defs>
<g shape-rendering="geometricPrecision"><path d="M50.5 6.3 L59.6 12.2 L60.8 15.4 L52.6 20.6 L45.2 15.4 L48.6 10.8 Z" fill="url(#gbook)" stroke="#8c5208" stroke-width="1.1" stroke-linejoin="round"/><path d="M46.3 15.2 L52.6 19.2 L59.6 14.8" fill="none" stroke="#fbe9a8" stroke-width="0.9"/><path d="M59.6 12.4 L53 17 L46 14.6" fill="none" stroke="#b07810" stroke-width="0.6" opacity="0.7"/></g>
<g shape-rendering="geometricPrecision"><path d="M75 6.2 L82 5.2 L85.8 7.2 L85.8 14.5 L75 14.5 Z" fill="url(#gbox)" stroke="#0a62c8" stroke-width="0.7"/><path d="M75.4 6.4 L78.4 8.6 L78.4 14.2" fill="none" stroke="#e0f2ff" stroke-width="0.9"/><path d="M78.4 8.6 L85.6 7.4" fill="none" stroke="#9ad4ff" stroke-width="0.6"/><rect x="80.3" y="9.6" width="4.4" height="1.4" fill="#e8f6ff"/><path d="M74.6 20.6 C72.4 20.6 72.2 16.8 74.9 16.6 C75.3 14.6 77.9 13.8 79.2 15.2 C80.2 12.9 83.8 13.1 84.4 15.6 C87 15.2 89 16.8 88.6 18.8 C88.4 20.2 87.4 20.7 86.2 20.7 Z" fill="url(#gcloud)" stroke="#3c5288" stroke-width="0.9"/></g>
<g shape-rendering="geometricPrecision"><path d="M108.9 4.8 A7.8 7.8 0 0 0 108.9 20.4" fill="none" stroke="#4a78d8" stroke-width="1.1" opacity="0.85"/><path d="M108.9 4.8 A7.8 7.8 0 0 1 108.9 20.4" fill="none" stroke="#5fa86a" stroke-width="1.1" opacity="0.8"/><path d="M108.9 7.6 A5 5 0 0 0 108.9 17.6" fill="none" stroke="#5d8ce0" stroke-width="1" opacity="0.7"/><path d="M108.9 7.6 A5 5 0 0 1 108.9 17.6" fill="none" stroke="#7cc08a" stroke-width="1" opacity="0.7"/><circle cx="108.9" cy="12.6" r="1.9" fill="#2a5cd0"/><path d="M109.5 12.5 L109.5 20 L113 19" fill="none" stroke="#1aa31a" stroke-width="1.3"/></g>
<g shape-rendering="geometricPrecision"><path d="M128.5 12.3 L143.8 12 L136 20.7 Z" fill="#f2d848" stroke="#d09a18" stroke-width="0.8"/><ellipse cx="136" cy="9.8" rx="7.8" ry="2.2" fill="#62b6e6" stroke="#2a86b8" stroke-width="0.8"/><ellipse cx="135.5" cy="7.5" rx="3.4" ry="2.6" fill="#78c4ee" stroke="#2a86b8" stroke-width="0.8"/><circle cx="140.4" cy="16.7" r="3.9" fill="#d82010" stroke="#b01000" stroke-width="0.6"/><rect x="139" y="15.3" width="2.8" height="2.8" fill="#ffffff"/></g>
<rect x="204" y="0" width="1" height="25" fill="#a0a0a0"/><rect x="205" y="0" width="1" height="25" fill="#ffffff"/>
<rect x="208" y="3" width="3" height="1" fill="#8c8c8c"/>
<rect x="209" y="4" width="3" height="1" fill="#ffffff" opacity="0.6"/>
<rect x="208" y="5" width="3" height="1" fill="#8c8c8c"/>
<rect x="209" y="6" width="3" height="1" fill="#ffffff" opacity="0.6"/>
<rect x="208" y="7" width="3" height="1" fill="#8c8c8c"/>
<rect x="209" y="8" width="3" height="1" fill="#ffffff" opacity="0.6"/>
<rect x="208" y="9" width="3" height="1" fill="#8c8c8c"/>
<rect x="209" y="10" width="3" height="1" fill="#ffffff" opacity="0.6"/>
<rect x="208" y="11" width="3" height="1" fill="#8c8c8c"/>
<rect x="209" y="12" width="3" height="1" fill="#ffffff" opacity="0.6"/>
<rect x="208" y="13" width="3" height="1" fill="#8c8c8c"/>
<rect x="209" y="14" width="3" height="1" fill="#ffffff" opacity="0.6"/>
<rect x="208" y="15" width="3" height="1" fill="#8c8c8c"/>
<rect x="209" y="16" width="3" height="1" fill="#ffffff" opacity="0.6"/>
<rect x="208" y="17" width="3" height="1" fill="#8c8c8c"/>
<rect x="209" y="18" width="3" height="1" fill="#ffffff" opacity="0.6"/>
<rect x="208" y="19" width="3" height="1" fill="#8c8c8c"/>
<rect x="209" y="20" width="3" height="1" fill="#ffffff" opacity="0.6"/>
<rect x="208" y="21" width="3" height="1" fill="#8c8c8c"/>
<rect x="209" y="22" width="3" height="1" fill="#ffffff" opacity="0.6"/>
<rect x="222" y="8" width="1" height="13" fill="#4a4a4a"/>
<rect x="221" y="9" width="3" height="1" fill="#4a4a4a"/>
<rect x="220" y="18" width="15" height="1" fill="#4a4a4a"/>
<rect x="233" y="17" width="1" height="3" fill="#4a4a4a"/>
<rect x="226" y="15" width="2" height="1" fill="#1a9a1a"/><rect x="227" y="9" width="1" height="7" fill="#1a9a1a"/><rect x="228" y="9" width="2" height="1" fill="#1a9a1a"/>
<rect x="242" y="1" width="24" height="22" fill="#f6f6f6"/>
<rect x="242" y="1" width="24" height="1" fill="#a0a0a0"/>
<rect x="242" y="1" width="1" height="22" fill="#a0a0a0"/>
<rect x="242" y="23" width="25" height="1" fill="#ffffff"/>
<rect x="266" y="1" width="1" height="23" fill="#ffffff"/>
<rect x="250" y="8" width="1" height="13" fill="#4a4a4a"/>
<rect x="249" y="9" width="3" height="1" fill="#4a4a4a"/>
<rect x="248" y="18" width="14" height="1" fill="#4a4a4a"/>
<rect x="260" y="17" width="1" height="3" fill="#4a4a4a"/>
<rect x="255" y="5" width="1" height="12" fill="#1a8a1a"/><rect x="253" y="7" width="4" height="8" fill="#22cc22" stroke="#1a8a1a" stroke-width="1"/>
<rect x="278" y="8" width="1" height="13" fill="#4a4a4a"/>
<rect x="277" y="9" width="3" height="1" fill="#4a4a4a"/>
<rect x="276" y="18" width="15" height="1" fill="#4a4a4a"/>
<rect x="289" y="17" width="1" height="3" fill="#4a4a4a"/>
<path d="M277 15.8 Q283 6.5 289.5 14.5" fill="none" stroke="#3a9a3a" stroke-width="1" shape-rendering="geometricPrecision"/>
<rect x="299" y="2" width="1" height="21" fill="#a0a0a0"/><rect x="300" y="2" width="1" height="21" fill="#fcfcfc"/>
<g shape-rendering="geometricPrecision"><path d="M317.3 14.4 L322.3 18.9" stroke="#b08a10" stroke-width="2.6" stroke-linecap="round"/><path d="M317.3 14.4 L322.3 18.9" stroke="#f0d860" stroke-width="1.4" stroke-linecap="round"/><circle cx="313.8" cy="10.9" r="5.4" fill="#dff0fb" stroke="#3478c8" stroke-width="1.1"/><rect x="310.8" y="10.1" width="6" height="1.7" fill="#3d7fb8"/><rect x="312.95" y="8" width="1.7" height="6" fill="#3d7fb8"/></g>
<g shape-rendering="geometricPrecision"><path d="M345.5 14.4 L350.5 18.9" stroke="#b08a10" stroke-width="2.6" stroke-linecap="round"/><path d="M345.5 14.4 L350.5 18.9" stroke="#f0d860" stroke-width="1.4" stroke-linecap="round"/><circle cx="342" cy="10.9" r="5.4" fill="#dff0fb" stroke="#3478c8" stroke-width="1.1"/><rect x="339" y="10.1" width="6" height="1.7" fill="#3d7fb8"/></g>
<rect x="364" y="5" width="8" height="8" fill="#2a9a2a"/><rect x="365" y="8" width="6" height="4" fill="#ffffff"/><rect x="366" y="9" width="4" height="1" fill="#2a9a2a" opacity="0.5"/>
<rect x="372" y="5" width="8" height="8" fill="#2a5ad8"/><rect x="373" y="8" width="6" height="4" fill="#ffffff"/><rect x="374" y="9" width="4" height="1" fill="#2a5ad8" opacity="0.5"/>
<rect x="364" y="13" width="8" height="8" fill="#2a5ad8"/><rect x="365" y="16" width="6" height="4" fill="#ffffff"/><rect x="366" y="17" width="4" height="1" fill="#2a5ad8" opacity="0.5"/>
<rect x="372" y="13" width="8" height="8" fill="#2a9a2a"/><rect x="373" y="16" width="6" height="4" fill="#ffffff"/><rect x="374" y="17" width="4" height="1" fill="#2a9a2a" opacity="0.5"/>
<rect x="389" y="2" width="1" height="21" fill="#a0a0a0"/><rect x="390" y="2" width="1" height="21" fill="#fcfcfc"/>
<rect x="394" y="1" width="25" height="22" fill="#f6f6f6"/>
<rect x="394" y="1" width="25" height="1" fill="#a0a0a0"/>
<rect x="394" y="1" width="1" height="22" fill="#a0a0a0"/>
<rect x="394" y="23" width="26" height="1" fill="#ffffff"/>
<rect x="419" y="1" width="1" height="23" fill="#ffffff"/>
<rect x="402" y="8" width="1" height="13" fill="#4a4a4a"/>
<rect x="401" y="9" width="3" height="1" fill="#4a4a4a"/>
<rect x="400" y="18" width="14" height="1" fill="#4a4a4a"/>
<rect x="412" y="17" width="1" height="3" fill="#4a4a4a"/>
<path d="M407 9 L411 12.3 L407 15.6 Z" fill="#22b022" shape-rendering="geometricPrecision"/>
<rect x="422" y="1" width="25" height="22" fill="#f6f6f6"/>
<rect x="422" y="1" width="25" height="1" fill="#a0a0a0"/>
<rect x="422" y="1" width="1" height="22" fill="#a0a0a0"/>
<rect x="422" y="23" width="26" height="1" fill="#ffffff"/>
<rect x="447" y="1" width="1" height="23" fill="#ffffff"/>
<rect x="430" y="8" width="1" height="13" fill="#4a4a4a"/>
<rect x="429" y="9" width="3" height="1" fill="#4a4a4a"/>
<rect x="428" y="18" width="14" height="1" fill="#4a4a4a"/>
<rect x="440" y="17" width="1" height="3" fill="#4a4a4a"/>
<rect x="436" y="7" width="1" height="10" fill="#1a6aa0"/>
<path d="M437.5 12.3 L441.8 12.3 M437.5 12.3 L440 10.5 M437.5 12.3 L440 14" stroke="#e06010" stroke-width="1.2" shape-rendering="geometricPrecision"/>
<rect x="451" y="2" width="1" height="21" fill="#a0a0a0"/><rect x="452" y="2" width="1" height="21" fill="#fcfcfc"/>
<g shape-rendering="geometricPrecision"><path d="M461.5 5.5 L469.5 5.5 L472.5 8.5 L472.5 18.5 L461.5 18.5 Z" fill="#ffffff" stroke="#8a8a8a" stroke-width="0.9" stroke-linejoin="round"/><path d="M469.5 5.5 L469.5 8.5 L472.5 8.5" fill="#f0f0f0" stroke="#8a8a8a" stroke-width="0.7"/><path d="M464.3 17.5 C465.2 14 464.8 10 466 8.2 C466.5 7.5 467.5 7.6 468 8 M463.8 11.6 L466.8 11.4" fill="none" stroke="#404040" stroke-width="0.9"/><path d="M469 11 L473 11 L473 15 L477 15 L477 19 L473 19 L473 23 L469 23 L469 19 L465 19 L465 15 L469 15 Z" fill="#2ad42a" stroke="#109010" stroke-width="0.8"/></g>
<path d="M482.8 12 L488.3 12 L485.55 15 Z" fill="#000" shape-rendering="geometricPrecision"/>
<defs><linearGradient id="gclk" x1="0" y1="0" x2="0" y2="1"><stop offset="0" stop-color="#3aa0f8"/><stop offset="1" stop-color="#0a4fb8"/></linearGradient></defs>
<g shape-rendering="geometricPrecision"><circle cx="507" cy="12.7" r="6.6" fill="#fbfbfb" stroke="url(#gclk)" stroke-width="2.4"/><circle cx="507" cy="12.7" r="7.9" fill="none" stroke="#0a48a8" stroke-width="0.5" opacity="0.7"/><path d="M507 7.6 L507 8.6 M512.1 12.7 L511.1 12.7 M507 17.8 L507 16.8 M501.9 12.7 L502.9 12.7" stroke="#9a9a9a" stroke-width="0.8"/><path d="M506.6 8.8 L507.2 13 L510 13.3" fill="none" stroke="#202020" stroke-width="1.1"/><path d="M505.5 16.4 L508.5 16.4" stroke="#5aa0f0" stroke-width="0.7"/></g>
<path d="M521.7 12 L527.2 12 L524.45 15 Z" fill="#000" shape-rendering="geometricPrecision"/>
<g shape-rendering="geometricPrecision"><rect x="538.5" y="6.5" width="15" height="13" fill="#ffffff" stroke="#2f6fc8" stroke-width="1"/><rect x="538.5" y="6.5" width="15" height="2.2" fill="#4a8ae0"/><rect x="539" y="12.8" width="14" height="0.8" fill="#2f6fc8"/><path d="M540 11.2 L543 10.8 L545 9.8 L547 10.9 L549 10.4 L552 9.8" fill="none" stroke="#b02010" stroke-width="1"/><path d="M540 16.2 L543 15.8 L545 16.5 L548 14.8 L552 17" fill="none" stroke="#20a020" stroke-width="1"/></g>
<path d="M560.8 12 L566.3 12 L563.55 15 Z" fill="#000" shape-rendering="geometricPrecision"/>
<rect x="572" y="0" width="1" height="25" fill="#a0a0a0"/><rect x="573" y="0" width="1" height="25" fill="#ffffff"/>
<rect x="576" y="3" width="3" height="1" fill="#8c8c8c"/>
<rect x="577" y="4" width="3" height="1" fill="#ffffff" opacity="0.6"/>
<rect x="576" y="5" width="3" height="1" fill="#8c8c8c"/>
<rect x="577" y="6" width="3" height="1" fill="#ffffff" opacity="0.6"/>
<rect x="576" y="7" width="3" height="1" fill="#8c8c8c"/>
<rect x="577" y="8" width="3" height="1" fill="#ffffff" opacity="0.6"/>
<rect x="576" y="9" width="3" height="1" fill="#8c8c8c"/>
<rect x="577" y="10" width="3" height="1" fill="#ffffff" opacity="0.6"/>
<rect x="576" y="11" width="3" height="1" fill="#8c8c8c"/>
<rect x="577" y="12" width="3" height="1" fill="#ffffff" opacity="0.6"/>
<rect x="576" y="13" width="3" height="1" fill="#8c8c8c"/>
<rect x="577" y="14" width="3" height="1" fill="#ffffff" opacity="0.6"/>
<rect x="576" y="15" width="3" height="1" fill="#8c8c8c"/>
<rect x="577" y="16" width="3" height="1" fill="#ffffff" opacity="0.6"/>
<rect x="576" y="17" width="3" height="1" fill="#8c8c8c"/>
<rect x="577" y="18" width="3" height="1" fill="#ffffff" opacity="0.6"/>
<rect x="576" y="19" width="3" height="1" fill="#8c8c8c"/>
<rect x="577" y="20" width="3" height="1" fill="#ffffff" opacity="0.6"/>
<rect x="576" y="21" width="3" height="1" fill="#8c8c8c"/>
<rect x="577" y="22" width="3" height="1" fill="#ffffff" opacity="0.6"/>
<rect x="582" y="1" width="24" height="22" fill="#f6f6f6"/>
<rect x="582" y="1" width="24" height="1" fill="#a0a0a0"/>
<rect x="582" y="1" width="1" height="22" fill="#a0a0a0"/>
<rect x="582" y="23" width="25" height="1" fill="#ffffff"/>
<rect x="606" y="1" width="1" height="23" fill="#ffffff"/>
<path d="M590.2 6.2 L597.5 13.5 L594.6 13.8 L596.5 18.5 L595 19.3 L593 14.7 L590.3 16.8 Z" fill="#505050" shape-rendering="geometricPrecision"/>
<rect x="622" y="6" width="1" height="15" fill="#4a4a4a"/><rect x="615" y="13" width="15" height="1" fill="#4a4a4a"/><rect x="622" y="13" width="1" height="1" fill="#f0f0f0"/>
<rect x="639" y="2" width="1" height="21" fill="#a0a0a0"/><rect x="640" y="2" width="1" height="21" fill="#fcfcfc"/>
<rect x="656" y="7" width="1.4" height="13" fill="#404040"/>
<rect x="679" y="13" width="12" height="1.3" fill="#404040"/>
<path d="M707 19.5 L719 8" stroke="#404040" stroke-width="1" shape-rendering="geometricPrecision"/>
<g shape-rendering="geometricPrecision" stroke="#404040" fill="none"><path d="M733.5 15 L741.5 7" stroke-width="1"/><path d="M734 19 L746.5 7.5" stroke-width="1"/><path d="M738 18.5 L748 9.5" stroke-width="1"/><path d="M736 11 L736 19 M739 9 L739 17 M742.5 5.5 L742.5 15" stroke-width="0.9"/></g>
<text x="743.5" y="22" font-size="6.5" font-weight="bold" fill="#404040">E</text>
<rect x="762" y="6" width="1" height="1" fill="#505050"/>
<rect x="764" y="6" width="1" height="1" fill="#505050"/>
<rect x="766" y="6" width="1" height="1" fill="#505050"/>
<rect x="768" y="6" width="1" height="1" fill="#505050"/>
<rect x="770" y="6" width="1" height="1" fill="#505050"/>
<rect x="772" y="6" width="1" height="1" fill="#505050"/>
<rect x="774" y="6" width="1" height="1" fill="#505050"/>
<rect x="762" y="9" width="1" height="1" fill="#505050"/>
<rect x="764" y="9" width="1" height="1" fill="#505050"/>
<rect x="766" y="9" width="1" height="1" fill="#505050"/>
<rect x="768" y="9" width="1" height="1" fill="#505050"/>
<rect x="770" y="9" width="1" height="1" fill="#505050"/>
<rect x="772" y="9" width="1" height="1" fill="#505050"/>
<rect x="774" y="9" width="1" height="1" fill="#505050"/>
<rect x="762" y="13" width="1" height="1" fill="#505050"/>
<rect x="764" y="13" width="1" height="1" fill="#505050"/>
<rect x="766" y="13" width="1" height="1" fill="#505050"/>
<rect x="768" y="13" width="1" height="1" fill="#505050"/>
<rect x="770" y="13" width="1" height="1" fill="#505050"/>
<rect x="772" y="13" width="1" height="1" fill="#505050"/>
<rect x="774" y="13" width="1" height="1" fill="#505050"/>
<rect x="762" y="17" width="1" height="1" fill="#505050"/>
<rect x="764" y="17" width="1" height="1" fill="#505050"/>
<rect x="766" y="17" width="1" height="1" fill="#505050"/>
<rect x="768" y="17" width="1" height="1" fill="#505050"/>
<rect x="770" y="17" width="1" height="1" fill="#505050"/>
<text x="771.5" y="22" font-size="6.5" font-weight="bold" fill="#404040">F</text>
<path d="M793.3 17.9 L796.9 8 L797.7 8 L801.2 17.9 M794.6 14.6 L800 14.6" fill="none" stroke="#555555" stroke-width="1.5" shape-rendering="geometricPrecision"/>
<rect x="818" y="7" width="1" height="1" fill="#606060"/>
<rect x="818" y="19" width="1" height="1" fill="#606060"/>
<rect x="820" y="7" width="1" height="1" fill="#606060"/>
<rect x="820" y="19" width="1" height="1" fill="#606060"/>
<rect x="822" y="7" width="1" height="1" fill="#606060"/>
<rect x="822" y="19" width="1" height="1" fill="#606060"/>
<rect x="824" y="7" width="1" height="1" fill="#606060"/>
<rect x="824" y="19" width="1" height="1" fill="#606060"/>
<rect x="826" y="7" width="1" height="1" fill="#606060"/>
<rect x="826" y="19" width="1" height="1" fill="#606060"/>
<rect x="828" y="7" width="1" height="1" fill="#606060"/>
<rect x="828" y="19" width="1" height="1" fill="#606060"/>
<rect x="830" y="7" width="1" height="1" fill="#606060"/>
<rect x="830" y="19" width="1" height="1" fill="#606060"/>
<rect x="818" y="7" width="1" height="1" fill="#606060"/>
<rect x="830" y="7" width="1" height="1" fill="#606060"/>
<rect x="818" y="9" width="1" height="1" fill="#606060"/>
<rect x="830" y="9" width="1" height="1" fill="#606060"/>
<rect x="818" y="11" width="1" height="1" fill="#606060"/>
<rect x="830" y="11" width="1" height="1" fill="#606060"/>
<rect x="818" y="13" width="1" height="1" fill="#606060"/>
<rect x="830" y="13" width="1" height="1" fill="#606060"/>
<rect x="818" y="15" width="1" height="1" fill="#606060"/>
<rect x="830" y="15" width="1" height="1" fill="#606060"/>
<rect x="818" y="17" width="1" height="1" fill="#606060"/>
<rect x="830" y="17" width="1" height="1" fill="#606060"/>
<rect x="818" y="19" width="1" height="1" fill="#606060"/>
<rect x="830" y="19" width="1" height="1" fill="#606060"/>
<rect x="821" y="10" width="8" height="2" fill="#4a4a4a"/><rect x="824" y="10" width="2" height="8" fill="#4a4a4a"/>
<g shape-rendering="geometricPrecision"><path d="M846 11 L849.5 7.2 L853 11 Z" fill="#4a4a4a"/><path d="M853.5 15.5 L860 15.5 L856.8 19.8 Z" fill="#4a4a4a"/><path d="M848.5 13.5 L850.5 15.5 L854 12" fill="none" stroke="#4a4a4a" stroke-width="1.2"/></g>
<path d="M866.8 12 L872.3 12 L869.55 15 Z" fill="#000" shape-rendering="geometricPrecision"/>
<rect x="878" y="0" width="1" height="25" fill="#a0a0a0"/><rect x="879" y="0" width="1" height="25" fill="#ffffff"/>
<rect x="882" y="3" width="3" height="1" fill="#8c8c8c"/>
<rect x="883" y="4" width="3" height="1" fill="#ffffff" opacity="0.6"/>
<rect x="882" y="5" width="3" height="1" fill="#8c8c8c"/>
<rect x="883" y="6" width="3" height="1" fill="#ffffff" opacity="0.6"/>
<rect x="882" y="7" width="3" height="1" fill="#8c8c8c"/>
<rect x="883" y="8" width="3" height="1" fill="#ffffff" opacity="0.6"/>
<rect x="882" y="9" width="3" height="1" fill="#8c8c8c"/>
<rect x="883" y="10" width="3" height="1" fill="#ffffff" opacity="0.6"/>
<rect x="882" y="11" width="3" height="1" fill="#8c8c8c"/>
<rect x="883" y="12" width="3" height="1" fill="#ffffff" opacity="0.6"/>
<rect x="882" y="13" width="3" height="1" fill="#8c8c8c"/>
<rect x="883" y="14" width="3" height="1" fill="#ffffff" opacity="0.6"/>
<rect x="882" y="15" width="3" height="1" fill="#8c8c8c"/>
<rect x="883" y="16" width="3" height="1" fill="#ffffff" opacity="0.6"/>
<rect x="882" y="17" width="3" height="1" fill="#8c8c8c"/>
<rect x="883" y="18" width="3" height="1" fill="#ffffff" opacity="0.6"/>
<rect x="882" y="19" width="3" height="1" fill="#8c8c8c"/>
<rect x="883" y="20" width="3" height="1" fill="#ffffff" opacity="0.6"/>
<rect x="882" y="21" width="3" height="1" fill="#8c8c8c"/>
<rect x="883" y="22" width="3" height="1" fill="#ffffff" opacity="0.6"/>
<rect x="1028" y="1" width="25" height="22" fill="#f6f6f6"/>
<rect x="1028" y="1" width="25" height="1" fill="#a0a0a0"/>
<rect x="1028" y="1" width="1" height="22" fill="#a0a0a0"/>
<rect x="1028" y="23" width="26" height="1" fill="#ffffff"/>
<rect x="1053" y="1" width="1" height="23" fill="#ffffff"/>
<text transform="translate(893.5,17.1) scale(0.93,1)" font-size="10" fill="#333333">M1</text>
<text transform="translate(921.5,17.1) scale(0.93,1)" font-size="10" fill="#333333">M5</text>
<text transform="translate(947.7,17.1) scale(0.93,1)" font-size="10" fill="#333333">M15</text>
<text transform="translate(975.6,17.1) scale(0.93,1)" font-size="10" fill="#333333">M30</text>
<text transform="translate(1006.5,17.1) scale(0.93,1)" font-size="10" fill="#333333">H1</text>
<text transform="translate(1033.7,17.1) scale(0.93,1)" font-size="10" fill="#333333">H4</text>
<text transform="translate(1062.5,17.1) scale(0.93,1)" font-size="10" fill="#333333">D1</text>
<text transform="translate(1090,17.1) scale(0.93,1)" font-size="10" fill="#333333">W1</text>
<text transform="translate(1116.6,17.1) scale(0.93,1)" font-size="10" fill="#333333">MN</text>
<rect x="1139" y="0" width="1" height="25" fill="#a0a0a0"/><rect x="1140" y="0" width="1" height="25" fill="#ffffff"/>
<g shape-rendering="geometricPrecision"><circle cx="1609.4" cy="10.4" r="3.9" fill="#f4f6ff" stroke="#2a5bd7" stroke-width="1.3"/><path d="M1606.5 13.3 L1602 17.8" stroke="#2a5bd7" stroke-width="2.4" stroke-linecap="round"/></g>
<g shape-rendering="geometricPrecision"><ellipse cx="1631.5" cy="15" rx="5.5" ry="4.6" fill="#dcdde8" stroke="#a8a8a8" stroke-width="0.8"/><path d="M1628.5 18.5 L1629.3 21.5 L1631.5 19" fill="#c8c8d0" stroke="#999" stroke-width="0.6"/><circle cx="1640.5" cy="10.4" r="8.2" fill="#de3a1e"/><path d="M1640.5 2.2 A8.2 8.2 0 0 1 1648.7 10.4 L1632.3 10.4 A8.2 8.2 0 0 1 1640.5 2.2 Z" fill="#e65536" opacity="0.5"/><text x="1637.2" y="15" font-size="12.5" style="font-family:&quot;Liberation Serif&quot;,serif" font-weight="bold" fill="#ffffff">1</text></g>
</svg>
</body></html>
